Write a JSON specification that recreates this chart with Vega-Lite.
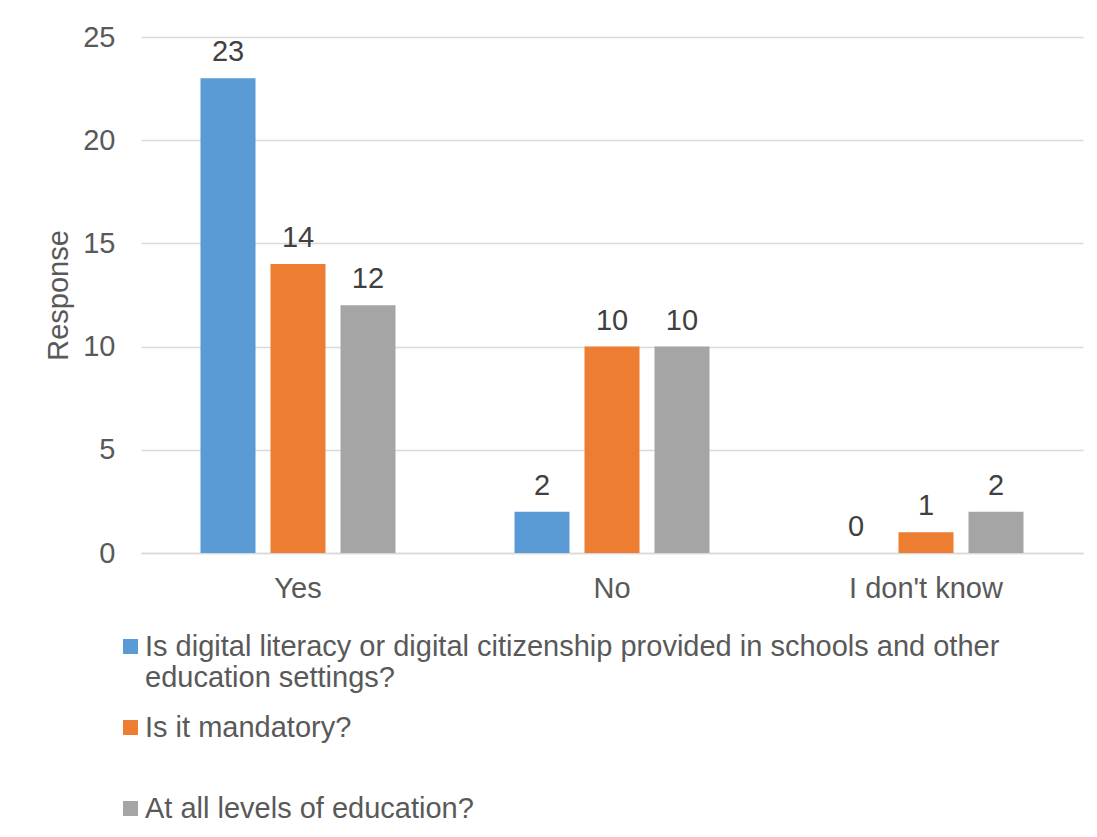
{
  "$schema": "https://vega.github.io/schema/vega-lite/v6.json",
  "width": 942,
  "height": 516,
  "autosize": {"type": "none"},
  "padding": {"left": 141, "top": 37, "right": 14, "bottom": 284},
  "background": "white",
  "config": {
    "font": "Liberation Sans",
    "view": {"stroke": null},
    "axis": {"labelColor": "#595959", "titleColor": "#595959", "labelFont": "Liberation Sans", "titleFont": "Liberation Sans"}
  },
  "data": {
    "values": [
      {"answer": "Yes", "question": "Is digital literacy or digital citizenship provided in schools and other education settings?", "count": 23},
      {"answer": "Yes", "question": "Is it mandatory?", "count": 14},
      {"answer": "Yes", "question": "At all levels of education?", "count": 12},
      {"answer": "No", "question": "Is digital literacy or digital citizenship provided in schools and other education settings?", "count": 2},
      {"answer": "No", "question": "Is it mandatory?", "count": 10},
      {"answer": "No", "question": "At all levels of education?", "count": 10},
      {"answer": "I don't know", "question": "Is digital literacy or digital citizenship provided in schools and other education settings?", "count": 0},
      {"answer": "I don't know", "question": "Is it mandatory?", "count": 1},
      {"answer": "I don't know", "question": "At all levels of education?", "count": 2}
    ]
  },
  "encoding": {
    "x": {
      "field": "answer", "type": "nominal", "sort": ["Yes", "No", "I don't know"],
      "scale": {"paddingInner": 0.379, "paddingOuter": 0.1895},
      "axis": {"title": null, "labelAngle": 0, "labelFontSize": 29, "labelPadding": 21, "ticks": false, "domainColor": "#d9d9d9", "domainWidth": 1.5, "grid": false}
    },
    "xOffset": {
      "field": "question", "type": "nominal",
      "sort": ["Is digital literacy or digital citizenship provided in schools and other education settings?", "Is it mandatory?", "At all levels of education?"],
      "scale": {"paddingInner": 0.2143, "paddingOuter": 0}
    },
    "y": {
      "field": "count", "type": "quantitative",
      "scale": {"domain": [0, 25]},
      "axis": {"title": "Response", "titleFontSize": 29, "titleFontWeight": "normal", "titlePadding": 9, "labelFontSize": 29, "labelPadding": 26, "values": [0, 5, 10, 15, 20, 25], "labelOverlap": false, "ticks": false, "domain": false, "gridColor": "#d9d9d9", "gridWidth": 1.5}
    }
  },
  "layer": [
    {
      "mark": {"type": "bar"},
      "encoding": {
        "color": {
          "field": "question", "type": "nominal",
          "sort": ["Is digital literacy or digital citizenship provided in schools and other education settings?", "Is it mandatory?", "At all levels of education?"],
          "scale": {"range": ["#5B9BD5", "#ED7D31", "#A5A5A5"]},
          "legend": {
            "title": null,
            "orient": "none",
            "direction": "vertical",
            "legendX": -25,
            "legendY": 595,
            "symbolType": "square",
            "symbolSize": 225,
            "symbolStrokeWidth": 0,
            "labelFontSize": 29,
            "labelColor": "#595959",
            "labelLimit": 1000,
            "labelOffset": 0,
            "labelBaseline": "middle",
            "labelLineHeight": 33,
            "rowPadding": 20,
            "labelExpr": "datum.label == 'Is digital literacy or digital citizenship provided in schools and other education settings?' ? ['Is digital literacy or digital citizenship provided in schools and other', 'education settings?'] : [datum.label, '']"
          }
        }
      }
    },
    {
      "mark": {"type": "text", "baseline": "alphabetic", "dy": -17, "fontSize": 29, "color": "#404040"},
      "encoding": {"text": {"field": "count", "type": "quantitative"}}
    }
  ]
}
